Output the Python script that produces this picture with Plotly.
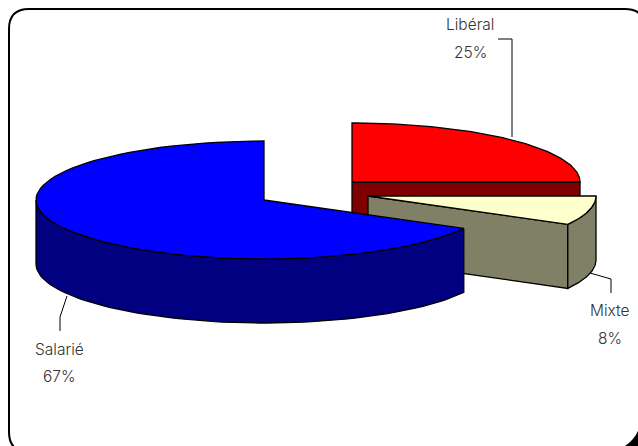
import math
import plotly.graph_objects as go

categories = ["Libéral", "Mixte", "Salarié"]
shares = [25, 8, 67]
top_colors = ["#ff0000", "#ffffcc", "#0000ff"]
side_colors = ["#800000", "#808066", "#000080"]

centers = {"Libéral": (352, 182), "Mixte": (368, 196), "Salarié": (264, 200)}
RX, RY, DEPTH = 228, 59, 64
TEXT = "#333333"
FONT = "Inter"

def pt(c, a, dy=0):
    return (c[0] + RX * math.sin(a), c[1] - RY * math.cos(a) + dy)

def arc(c, a0, a1, dy=0, n=80):
    return [pt(c, a0 + (a1 - a0) * i / n, dy) for i in range(n + 1)]

def poly(pts, fill):
    xs = [p[0] for p in pts] + [pts[0][0]]
    ys = [p[1] for p in pts] + [pts[0][1]]
    return go.Scatter(x=xs, y=ys, mode="lines", fill="toself", fillcolor=fill,
                      line=dict(color="black", width=1.3), hoverinfo="skip", showlegend=False)

fig = go.Figure()
bounds = {}
acc = 0
for name, s in zip(categories, shares):
    bounds[name] = (acc / 100 * 2 * math.pi, (acc + s) / 100 * 2 * math.pi)
    acc += s

for name in categories:
    i = categories.index(name)
    c = centers[name]
    a0, a1 = bounds[name]
    top = top_colors[i]
    side = side_colors[i]
    if name == "Libéral":
        fig.add_trace(poly([c, pt(c, a1), pt(c, a1, DEPTH), (c[0], c[1] + DEPTH)], side))
    elif name == "Mixte":
        fig.add_trace(poly([c, pt(c, a1), pt(c, a1, DEPTH), (c[0], c[1] + DEPTH)], side))
        rim = arc(c, a0, a1)
        fig.add_trace(poly(rim + arc(c, a1, a0, DEPTH), side))
    else:
        rim = arc(c, a0, 1.5 * math.pi)
        fig.add_trace(poly(rim + arc(c, 1.5 * math.pi, a0, DEPTH), side))
    fig.add_trace(poly([c] + arc(c, a0, a1), top))

leaders = [
    ([512, 512, 498], [137, 39, 39]),
    ([590, 611, 611], [273, 279, 293]),
    ([67, 60, 60], [296, 317, 331]),
]
for lx, ly in leaders:
    fig.add_trace(go.Scatter(x=lx, y=ly, mode="lines", line=dict(color="black", width=1),
                             hoverinfo="skip", showlegend=False))

label_pos = [(470, 24, 52), (610, 310, 338), (59, 349, 376)]
for name, s, (x, y1, y2) in zip(categories, shares, label_pos):
    for txt, y in ((name, y1), (f"{s}%", y2)):
        fig.add_annotation(x=x, y=y, text=txt, showarrow=False, xanchor="center", yanchor="middle",
                           font=dict(family=FONT, size=15.5, color=TEXT, weight=300))

L, T, R, B, Q = 9, 9, 645, 452, 20
fig.add_shape(type="path", layer="below",
              path="M 625 446 Q 634 440 638 431 L 640 448 Z",
              line=dict(color="black", width=0), fillcolor="black")
fig.add_shape(type="path", layer="below",
              path=f"M {L+Q} {T} L {R-Q} {T} Q {R} {T} {R} {T+Q} M {L+Q} {B} Q {L} {B} {L} {B-Q} L {L} {T+Q} Q {L} {T} {L+Q} {T}",
              line=dict(color="black", width=2))

fig.update_layout(width=638, height=446, margin=dict(l=0, r=0, t=0, b=0),
                  paper_bgcolor="white", plot_bgcolor="white", showlegend=False,
                  xaxis=dict(range=[0, 638], visible=False, fixedrange=True),
                  yaxis=dict(range=[446, 0], visible=False, fixedrange=True))
fig.write_html("out.html", config=dict(displayModeBar=False),
               post_script="document.body.style.margin='0';document.documentElement.style.overflow='hidden';")
